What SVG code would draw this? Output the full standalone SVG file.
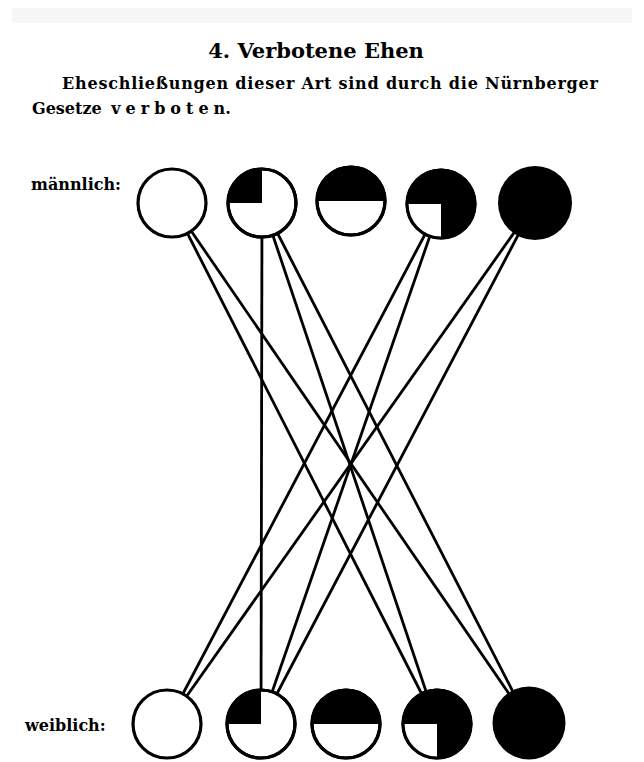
<svg xmlns="http://www.w3.org/2000/svg" width="644" height="762" viewBox="0 0 644 762">
<style>
.t{font-family:"DejaVu Serif","Liberation Serif",serif;font-weight:bold;fill:#000}
.ln{stroke:#000;stroke-width:2.8;fill:none}
.o{fill:#fff;stroke:#000;stroke-width:3.2}
.f{fill:#000;stroke:none}
.w{fill:#fff;stroke:none}
.r{fill:none;stroke:#000;stroke-width:3.2}
</style>
<rect x="0" y="0" width="644" height="762" fill="#fff"/>
<rect x="12" y="8" width="620" height="15" fill="#f7f7f7"/>
<text class="t" x="316" y="58" font-size="21" text-anchor="middle">4. Verbotene Ehen</text>
<text class="t" x="62" y="89" font-size="16" textLength="536" lengthAdjust="spacing">Eheschließungen dieser Art sind durch die Nürnberger</text>
<text class="t" x="32" y="114" font-size="16">Gesetze <tspan dx="4" letter-spacing="5">verbote</tspan><tspan>n.</tspan></text>
<text class="t" x="31" y="190" font-size="16">männlich:</text>
<text class="t" x="25" y="731" font-size="16">weiblich:</text>
<g id="connectors">
<line class="ln" x1="172" y1="203" x2="437" y2="724"/>
<line class="ln" x1="172" y1="203" x2="529" y2="723"/>
<line class="ln" x1="262" y1="203" x2="261" y2="724"/>
<line class="ln" x1="262" y1="203" x2="437" y2="724"/>
<line class="ln" x1="262" y1="203" x2="529" y2="723"/>
<line class="ln" x1="441" y1="204" x2="167" y2="724"/>
<line class="ln" x1="441" y1="204" x2="261" y2="724"/>
<line class="ln" x1="535" y1="203" x2="167" y2="724"/>
<line class="ln" x1="535" y1="203" x2="261" y2="724"/>
</g>
<g id="m1"><circle class="o" cx="172" cy="203" r="34"/></g>
<g id="m2"><circle class="o" cx="262" cy="203" r="34"/><path class="f" d="M262 203 L228 203 A34 34 0 0 1 262 169 Z"/><circle class="r" cx="262" cy="203" r="34"/></g>
<g id="m3"><circle class="o" cx="351" cy="201" r="34"/><path class="f" d="M317 201 A34 34 0 0 1 385 201 Z"/><circle class="r" cx="351" cy="201" r="34"/></g>
<g id="m4"><circle class="f" cx="441" cy="204" r="35.5"/><path class="w" d="M441 204 L441 238 A34 34 0 0 1 407 204 Z"/><circle class="r" cx="441" cy="204" r="34"/></g>
<g id="m5"><circle class="f" cx="535" cy="203" r="37"/></g>
<g id="f1"><circle class="o" cx="167" cy="724" r="34"/></g>
<g id="f2"><circle class="o" cx="261" cy="724" r="34"/><path class="f" d="M261 724 L227 724 A34 34 0 0 1 261 690 Z"/><circle class="r" cx="261" cy="724" r="34"/></g>
<g id="f3"><circle class="o" cx="346" cy="724" r="34"/><path class="f" d="M312 724 A34 34 0 0 1 380 724 Z"/><circle class="r" cx="346" cy="724" r="34"/></g>
<g id="f4"><circle class="f" cx="437" cy="724" r="35.5"/><path class="w" d="M437 724 L437 758 A34 34 0 0 1 403 724 Z"/><circle class="r" cx="437" cy="724" r="34"/></g>
<g id="f5"><circle class="f" cx="529" cy="723" r="36.5"/></g>
</svg>
